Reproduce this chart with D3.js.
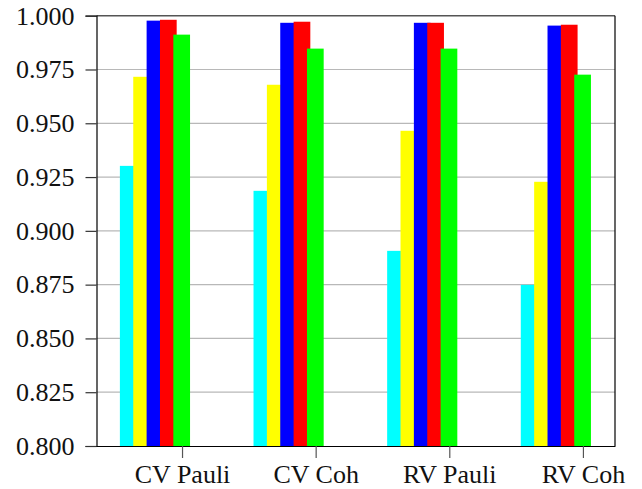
<!DOCTYPE html>
<html>
<head>
<meta charset="utf-8">
<script src="https://cdn.jsdelivr.net/npm/d3@7"></script>
<style>
  html, body { margin: 0; padding: 0; background: #fff; }
  svg { display: block; }
</style>
</head>
<body>
<svg id="chart" width="642" height="489"></svg>
<script>
// ---- data ----
const categories = ["CV Pauli", "CV Coh", "RV Pauli", "RV Coh"];
const cyanSeries   = [0.9302, 0.9186, 0.8907, 0.8749];
const yellowSeries = [0.9716, 0.9679, 0.9465, 0.9228];
const blueSeries   = [0.9977, 0.9967, 0.9967, 0.9954];
const redSeries    = [0.9981, 0.9972, 0.9967, 0.9958];
const greenSeries  = [0.9912, 0.9847, 0.9847, 0.9726];
const yTicks = [0.800, 0.825, 0.850, 0.875, 0.900, 0.925, 0.950, 0.975, 1.000];

const seriesList = [cyanSeries, yellowSeries, blueSeries, redSeries, greenSeries];
const seriesColors = ["#00ffff", "#ffff00", "#0000ff", "#ff0000", "#00ff00"];

// ---- layout ----
const plotLeft = 96.5, plotRight = 615, plotTop = 15.7, plotBottom = 446;
const FONT = "'Liberation Serif', 'Times New Roman', serif";
const svg = d3.select("#chart");

const y = d3.scaleLinear().domain([0.8, 1.0]).range([plotBottom, plotTop]);
const x = d3.scaleLinear().domain([-0.64, 3.24]).range([plotLeft, plotRight]);

// grid lines
svg.append("g").selectAll("line").data(yTicks.filter(t => t > 0.8 && t < 1.0)).join("line")
  .attr("x1", plotLeft).attr("x2", plotRight)
  .attr("y1", d => y(d)).attr("y2", d => y(d))
  .attr("stroke", "#b8b8b8").attr("stroke-width", 1.2);

// bars
const barStart = -0.465, barStep = 0.1, barWidth = 0.125;
seriesList.forEach((vals, k) => {
  svg.append("g").selectAll("rect").data(vals).join("rect")
    .attr("x", (d, i) => x(i + barStart + k * barStep))
    .attr("width", (d, i) => x(i + barStart + k * barStep + barWidth) - x(i + barStart + k * barStep))
    .attr("y", d => y(d))
    .attr("height", d => y(0.8) - y(d))
    .attr("fill", seriesColors[k]);
});

// frame
svg.append("line").attr("x1", plotLeft).attr("x2", plotRight).attr("y1", plotTop).attr("y2", plotTop)
  .attr("stroke", "#555").attr("stroke-width", 1.5);
svg.append("line").attr("x1", plotRight).attr("x2", plotRight).attr("y1", plotTop).attr("y2", plotBottom)
  .attr("stroke", "#000").attr("stroke-width", 1.2);

// y axis
const yAxis = d3.axisLeft(y).tickValues(yTicks).tickFormat(d3.format(".3f"))
  .tickSize(11).tickPadding(11);
const gy = svg.append("g").attr("transform", `translate(${plotLeft},0)`).call(yAxis)
  .attr("font-family", FONT).attr("font-size", 26);
gy.select(".domain").attr("stroke", "#000").attr("stroke-width", 1.2);
gy.selectAll(".tick line").attr("stroke", "#333").attr("stroke-width", 1.2);
gy.selectAll(".tick text").attr("fill", "#111").style("font-family", FONT);

// x axis
const xAxis = d3.axisBottom(x).tickValues(d3.range(categories.length))
  .tickFormat(i => categories[i]).tickSize(12).tickPadding(7).tickSizeOuter(0);
const gx = svg.append("g").attr("transform", `translate(0,${plotBottom})`).call(xAxis)
  .attr("font-family", FONT).attr("font-size", 26);
gx.select(".domain").attr("stroke", "#000").attr("stroke-width", 1.2);
gx.selectAll(".tick line").attr("stroke", "#555").attr("stroke-width", 1.2);
gx.selectAll(".tick text").attr("fill", "#111").style("font-family", FONT);
</script>
</body>
</html>
